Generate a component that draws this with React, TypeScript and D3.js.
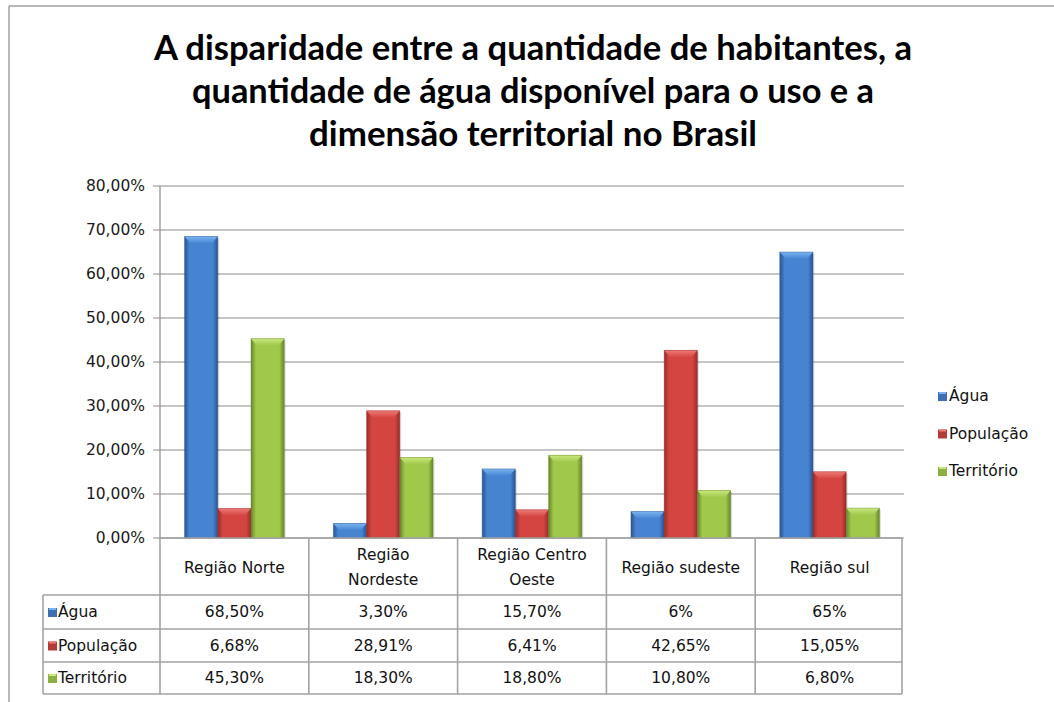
import React from 'react';
import * as d3 from 'd3';

// Chart data
const titleLines = [
  'A disparidade entre a quantidade de habitantes, a',
  'quantidade de água disponível para o uso e a',
  'dimensão territorial no Brasil',
];
const categories = ['Região Norte', 'Região Nordeste', 'Região Centro Oeste', 'Região sudeste', 'Região sul'];
const headerLines = [['Região Norte'], ['Região', 'Nordeste'], ['Região Centro', 'Oeste'], ['Região sudeste'], ['Região sul']];
const series = ['Água', 'População', 'Território'];
const agua = [68.5, 3.3, 15.7, 6, 65];
const populacao = [6.68, 28.91, 6.41, 42.65, 15.05];
const territorio = [45.3, 18.3, 18.8, 10.8, 6.8];
const aguaLabels = ['68,50%', '3,30%', '15,70%', '6%', '65%'];
const populacaoLabels = ['6,68%', '28,91%', '6,41%', '42,65%', '15,05%'];
const territorioLabels = ['45,30%', '18,30%', '18,80%', '10,80%', '6,80%'];
const yTicks = [0, 10, 20, 30, 40, 50, 60, 70, 80];

const values = [agua, populacao, territorio];
const labels = [aguaLabels, populacaoLabels, territorioLabels];

// colours: edge, middle, cap
const palette = [
  { id: 'blue', edge: '#2a5490', mid: '#4684d2', cap: '#7ab4f0', key: '#3f6fb0' },
  { id: 'red', edge: '#962c2a', mid: '#d44541', cap: '#ee7a76', key: '#b33c39' },
  { id: 'green', edge: '#66852a', mid: '#a0c84a', cap: '#c9e87e', key: '#8bb040' },
];

const W = 1054;
const H = 702;
const plotLeft = 160;
const plotRight = 904;
const plotTop = 186;
const plotBottom = 538;
const tableLeft = 43;
const rowLines = [538, 595, 629, 662, 694];
const font = '"DejaVu Sans", Verdana, sans-serif';
const gridColor = '#8c8c8c';
const tableColor = '#a2a2a2';

export default function App() {
  const x0 = d3.scaleBand<string>().domain(categories).range([plotLeft, plotRight]).padding(0);
  const bw = x0.bandwidth();
  const gap = bw * 0.165;
  const x1 = d3.scaleBand<string>().domain(series).range([gap, bw - gap]).padding(0);
  const y = d3.scaleLinear().domain([0, 80]).range([plotBottom, plotTop]);
  const fmt = (v: number) => v.toFixed(2).replace('.', ',') + '%';

  const bars: JSX.Element[] = [];
  series.forEach((s, si) => {
    values[si].forEach((v, ci) => {
      const bx = x0(categories[ci])! + x1(s)!;
      const w = x1.bandwidth();
      const by = y(v);
      const h = plotBottom - by;
      const cap = Math.min(7, h / 2);
      const inset = Math.min(6, w / 4);
      const p = palette[si];
      bars.push(
        <g key={`${si}-${ci}`}>
          <rect x={bx + 1.5} y={by + 1.5} width={w} height={h - 1.5} fill="#000" opacity={0.12} />
          <rect x={bx} y={by} width={w} height={h} fill={`url(#grad-${p.id})`} />
          <polygon
            points={`${bx},${by} ${bx + w},${by} ${bx + w - inset},${by + cap} ${bx + inset},${by + cap}`}
            fill={`url(#cap-${p.id})`}
          />
          <rect x={bx} y={by} width={w} height={h} fill="none" stroke={p.edge} strokeOpacity={0.5} strokeWidth={0.8} />
        </g>
      );
    });
  });

  return (
    <div style={{ position: 'absolute', left: 0, top: 0 }}>
      <svg width={W} height={H} viewBox={`0 0 ${W} ${H}`} style={{ display: 'block', background: '#fff' }}>
        <defs>
          {palette.map(p => (
            <linearGradient key={p.id} id={`grad-${p.id}`} x1="0" x2="1" y1="0" y2="0">
              <stop offset="0" stopColor={p.edge} />
              <stop offset="0.15" stopColor={p.mid} />
              <stop offset="0.5" stopColor={p.mid} />
              <stop offset="0.85" stopColor={p.mid} />
              <stop offset="1" stopColor={p.edge} />
            </linearGradient>
          ))}
          {palette.map(p => (
            <linearGradient key={p.id} id={`cap-${p.id}`} x1="0" x2="0" y1="0" y2="1">
              <stop offset="0" stopColor={p.cap} />
              <stop offset="1" stopColor={p.mid} />
            </linearGradient>
          ))}
        </defs>

        {/* chart frame */}
        <line x1={9} x2={W} y1={6} y2={6} stroke="#a0a0a0" strokeWidth={1.5} />
        <line x1={9} x2={9} y1={6} y2={H} stroke="#a0a0a0" strokeWidth={1.5} />

        {/* title */}
        {titleLines.map((t, i) => (
          <text
            key={i}
            x={533}
            y={60 + i * 43}
            textAnchor="middle"
            fontFamily='Lato, "Open Sans", sans-serif'
            fontWeight="bold"
            fontSize={34}
            fill="#000"
            textLength={[758, 682, 448][i]}
            lengthAdjust="spacingAndGlyphs"
          >
            {t}
          </text>
        ))}

        {/* gridlines and y axis */}
        {yTicks.map(t => (
          <g key={t}>
            <line x1={plotLeft - 7} x2={plotRight} y1={y(t)} y2={y(t)} stroke={gridColor} strokeWidth={1.2} />
            <text
              x={145}
              y={y(t)}
              dy="0.35em"
              textAnchor="end"
              fontFamily={font}
              fontSize={15.5}
              fill="#1a1a1a"
            >
              {fmt(t)}
            </text>
          </g>
        ))}
        <line x1={plotLeft} x2={plotLeft} y1={plotTop} y2={plotBottom} stroke={gridColor} strokeWidth={1.2} />

        {bars}

        {/* data table */}
        <g stroke={tableColor} strokeWidth={1.6} fill="none">
          {rowLines.slice(1).map(ry => (
            <line key={ry} x1={tableLeft} x2={plotRight - 2} y1={ry} y2={ry} />
          ))}
          <line x1={plotLeft} x2={plotRight - 2} y1={rowLines[0]} y2={rowLines[0]} />
          <line x1={tableLeft} x2={tableLeft} y1={rowLines[1]} y2={rowLines[4]} />
          {categories.map(c => (
            <line key={c} x1={x0(c)!} x2={x0(c)!} y1={rowLines[0]} y2={rowLines[4]} />
          ))}
          <line x1={plotRight - 2} x2={plotRight - 2} y1={rowLines[0]} y2={rowLines[4]} />
        </g>
        {/* header labels */}
        {categories.map((c, ci) => {
          const lines = headerLines[ci];
          const cx = x0(c)! + bw / 2;
          const cy = (rowLines[0] + rowLines[1]) / 2 + 1;
          return lines.map((l, li) => (
            <text
              key={`${c}-${li}`}
              x={cx}
              y={cy + (li - (lines.length - 1) / 2) * 25}
              dy="0.35em"
              textAnchor="middle"
              fontFamily={font}
              fontSize={15.5}
              fill="#111"
            >
              {l}
            </text>
          ));
        })}
        {/* rows */}
        {series.map((s, si) => {
          const cy = (rowLines[si + 1] + rowLines[si + 2]) / 2;
          const p = palette[si];
          return (
            <g key={s}>
              <rect x={48} y={cy - 4} width={9} height={9} fill={p.key} />
              <rect x={49} y={cy - 4} width={7} height={2} fill={p.cap} />
              <text x={58} y={cy} dy="0.35em" fontFamily={font} fontSize={15.5} fill="#111">
                {s}
              </text>
              {categories.map((c, ci) => (
                <text
                  key={c}
                  x={x0(c)! + bw / 2}
                  y={cy}
                  dy="0.35em"
                  textAnchor="middle"
                  fontFamily={font}
                  fontSize={15.5}
                  fill="#111"
                >
                  {labels[si][ci]}
                </text>
              ))}
            </g>
          );
        })}

        {/* legend */}
        {series.map((s, si) => {
          const ly = 396 + si * 37.5;
          const p = palette[si];
          return (
            <g key={s}>
              <rect x={938} y={ly - 4} width={9} height={9} fill={p.key} />
              <rect x={939} y={ly - 4} width={7} height={2} fill={p.cap} />
              <text x={949} y={ly} dy="0.35em" fontFamily={font} fontSize={15.5} fill="#111">
                {s}
              </text>
            </g>
          );
        })}
      </svg>
    </div>
  );
}
